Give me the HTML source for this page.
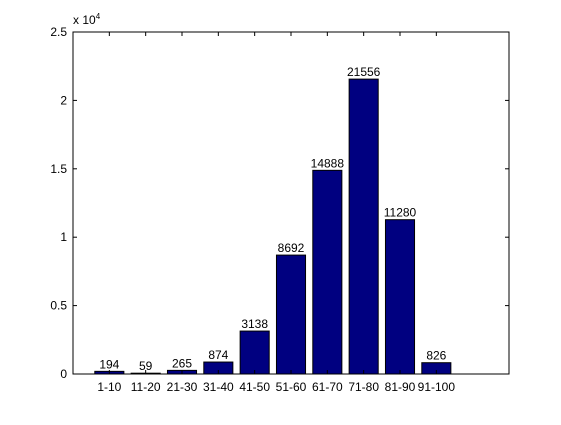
<!DOCTYPE html>
<html><head><style>
body{margin:0;background:#fff;}
svg text{font-family:"Liberation Sans",Arial,sans-serif;font-size:12px;fill:#000;}
</style></head><body>
<svg id="chart" width="561" height="420">
<rect x="0" y="0" width="561" height="420" fill="#fff"/>
<g id="bars"></g>
<rect x="73" y="32" width="436" height="342" fill="none" stroke="#000" stroke-width="1"/>
<g id="axes"></g>
<text x="73" y="24">x 10<tspan dy="-5" font-size="8">4</tspan></text>
</svg>
<script>
const categories=["1-10","11-20","21-30","31-40","41-50","51-60","61-70","71-80","81-90","91-100"];
const values=[194,59,265,874,3138,8692,14888,21556,11280,826];
const yTicks=[0,5000,10000,15000,20000,25000];
const yTickLabels=["0","0.5","1","1.5","2","2.5"];
const L=73,R=509,T=32,B=374,NS="http://www.w3.org/2000/svg";
const xs=i=>L+(i+1)*(R-L)/12;
const ys=v=>B-v/25000*(B-T);
const bw=0.8*(R-L)/12;
const bars=document.getElementById('bars'),axes=document.getElementById('axes');
function mk(t,a,p){const e=document.createElementNS(NS,t);for(const k in a)e.setAttribute(k,a[k]);p.appendChild(e);return e;}
values.forEach((v,i)=>{
 const r=mk('rect',{x:xs(i)-bw/2,y:ys(v),width:bw,height:B-ys(v),fill:'#000080',stroke:'#000'},bars);
 
 
 const t=mk('text',{x:xs(i),y:ys(v)-3,'text-anchor':'middle'},bars);t.textContent=v;
 
 
 const c=mk('text',{x:xs(i),y:B+17,'text-anchor':'middle'},axes);c.textContent=categories[i];
 
 
 mk('line',{x1:xs(i),x2:xs(i),y1:B,y2:B-4,stroke:'#000'},axes);
 mk('line',{x1:xs(i),x2:xs(i),y1:T,y2:T+4,stroke:'#000'},axes);
});
yTicks.forEach((v,i)=>{
 const y=ys(v);
 mk('line',{x1:L,x2:L+4,y1:y,y2:y,stroke:'#000'},axes);
 mk('line',{x1:R,x2:R-4,y1:y,y2:y,stroke:'#000'},axes);
 const t=mk('text',{x:L-6,y:y+4,'text-anchor':'end'},axes);t.textContent=yTickLabels[i];
 
 
});
</script>
</body></html>
